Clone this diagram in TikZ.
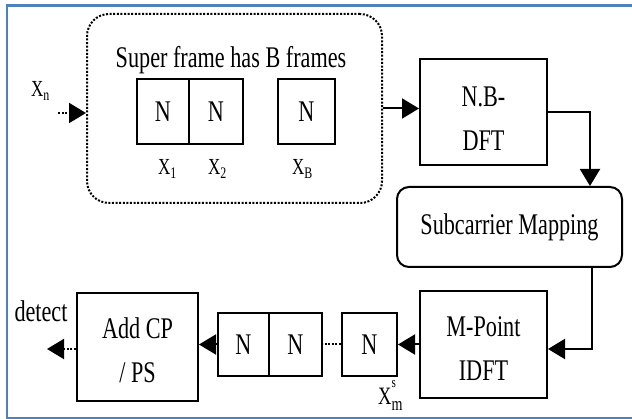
\documentclass[tikz,border=0pt]{standalone}
\usepackage{fontspec}
\setmainfont{Liberation Serif}[FakeStretch=0.74]
\usetikzlibrary{arrows.meta}
\definecolor{frameblue}{RGB}{79,129,189}
\begin{document}
\begin{tikzpicture}[x=1pt,y=-1pt,
  box/.style={draw, line width=2pt, inner sep=0pt, font=\fontsize{30}{44}\selectfont, align=center},
  txt/.style={inner sep=0pt, font=\fontsize{30}{44}\selectfont, align=center},
  lab/.style={inner sep=0pt, font=\fontsize{23}{26}\selectfont},
  tip/.style={-{Triangle[length=17pt,width=20pt]}},
  arr/.style={line width=2pt, tip},
  dotline/.style={line width=2pt, dash pattern=on 2pt off 1.6pt},
]
\useasboundingbox (0,0) rectangle (632,419);
\begin{scope}
\clip (0,0) rectangle (632,419);
\draw[line width=2.6pt, frameblue] (7,5.5) rectangle (660,418);
\end{scope}

% super frame
\node[draw, dotline, inner sep=0pt, rounded corners=22pt, minimum width=295pt, minimum height=189pt] (sf) at (234.5,108.5) {};
\node[txt, anchor=base] (sftitle) at (231,68) {Super frame has B frames};
\node[box, minimum width=52pt, minimum height=65pt] (a1) at (163,111.5) {\raisebox{-2pt}{N}};
\node[box, minimum width=54pt, minimum height=65pt] (a2) at (216,111.5) {\raisebox{-2pt}{N}};
\node[box, minimum width=57pt, minimum height=65pt] (aB) at (306.5,111.5) {\raisebox{-2pt}{N}};
\node[lab, anchor=base west] (x1) at (158,175) {X\textsubscript{1}};
\node[lab, anchor=base west] (x2) at (208,175) {X\textsubscript{2}};
\node[lab, anchor=base west] (xB) at (292,175) {X\textsubscript{B}};
\node[lab, anchor=base west] (xn) at (31,97) {X\textsubscript{n}};
\coordinate (in) at (58,113);
\draw[dotline, tip] (in) -- (sf.west |- in);

% N.B-DFT
\node[box, minimum width=127pt, minimum height=106pt] (nb) at (483.5,112) {};
\node[txt] (nbt) at (483.5,119) {N.B-\\DFT};

% Subcarrier mapping
\node[box, rounded corners=12pt, minimum width=225pt, minimum height=80pt] (sub) at (509.5,227) {\raisebox{3pt}{Subcarrier Mapping}};

% M-Point IDFT
\node[box, minimum width=127pt, minimum height=107pt] (mp) at (483.5,344.5) {};
\node[txt] (mpt) at (483.5,348.5) {M-Point\\IDFT};

% bottom N boxes
\node[box, minimum width=55pt, minimum height=63pt] (b3) at (369.5,344.5) {\raisebox{-4pt}{N}};
\node[box, minimum width=51pt, minimum height=63pt] (b1) at (243.5,344.5) {\raisebox{-4pt}{N}};
\node[box, minimum width=53pt, minimum height=63pt] (b2) at (295.5,344.5) {\raisebox{-4pt}{N}};
\node[inner sep=0pt, anchor=base west, font=\fontsize{25}{28}\selectfont] (xsm) at (378,405)
  {X\rlap{\raisebox{17pt}{\fontsize{15}{15}\selectfont s}}\raisebox{-6pt}{\fontsize{19}{19}\selectfont m}};

% Add CP / PS
\node[box, minimum width=121pt, minimum height=108pt] (add) at (137.5,347) {};
\node[txt] (addt) at (137.5,350) {Add CP\\/ PS};
\node[txt, anchor=base] (det) at (41,322) {detect};
\coordinate (out) at (47,349);

% connectors
\draw[arr] (sf.east) -- (sf.east -| nb.west);
\draw[arr] (nb.east) -| ([xshift=80.5pt]sub.north);
\draw[arr] ([xshift=82.5pt]sub.south) |- ([yshift=-4.5pt]mp.east);
\draw[arr] (mp.west) -- (b3.east);
\draw[dotline] (b3.west) -- (b2.east);
\draw[arr] (b1.west) -- (b1.west -| add.east);
\draw[dotline, tip] (add.west |- out) -- (out);
\end{tikzpicture}
\end{document}
